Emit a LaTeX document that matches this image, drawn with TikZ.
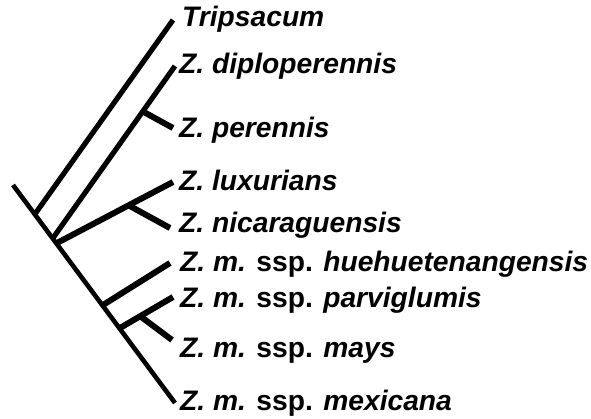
\documentclass[tikz,border=0pt]{standalone}
\usepackage{fontspec}
\setmainfont{Liberation Sans}
\begin{document}
\begin{tikzpicture}[x=1pt,y=-1pt,
  rootline/.style={line width=4.6pt,line cap=butt},
  branch/.style={line width=5.2pt,line cap=butt},
  twig/.style={line width=6pt,line cap=butt},
  taxon/.style={anchor=base west,inner sep=0pt,font=\fontsize{28.2}{30}\selectfont\bfseries\itshape}]
\useasboundingbox (0,0) rectangle (591,419);
% tree points
\coordinate (r0) at (13,185);
\coordinate (jT) at (35,214);
\coordinate (jD) at (53,238);
\coordinate (jL) at (57,243);
\coordinate (nL) at (128,205);
\coordinate (nP) at (142,111);
\coordinate (jH) at (103,305);
\coordinate (jM) at (120,328);
\coordinate (nM) at (140,316);
% tips
\coordinate (tT) at (173,20);
\coordinate (tD) at (175,66);
\coordinate (tP) at (173,128);
\coordinate (tL) at (173,182);
\coordinate (tN) at (170,228);
\coordinate (tH) at (170,263);
\coordinate (tPa) at (173,297);
\coordinate (tMa) at (172,340);
\coordinate (tMe) at (175,403);
% labels
\node[taxon] (lT) at (182,27) {Tripsacum};
\node[taxon] (lD) at (179,74) {Z. diploperennis};
\node[taxon] (lP) at (179,138) {Z. perennis};
\node[taxon] (lL) at (179,191) {Z. luxurians};
\node[taxon] (lN) at (179,233) {Z. nicaraguensis};
\node[taxon] (lH) at (180,272) {Z. m. {\upshape ssp.} huehuetenangensis};
\node[taxon] (lPa) at (180,307) {Z. m. {\upshape ssp.} parviglumis};
\node[taxon] (lMa) at (180,357) {Z. m. {\upshape ssp.} mays};
\node[taxon] (lMe) at (180,410) {Z. m. {\upshape ssp.} mexicana};
% branches
\draw[rootline] (r0) -- (tMe);
\draw[branch] (jT) -- (tT);
\draw[branch] (jD) -- (tD);
\draw[twig] (nP) -- (tP);
\draw[twig] (jL) -- (tL);
\draw[twig] (nL) -- (tN);
\draw[twig] (jH) -- (tH);
\draw[twig] (jM) -- (tPa);
\draw[twig] (nM) -- (tMa);
\end{tikzpicture}
\end{document}
